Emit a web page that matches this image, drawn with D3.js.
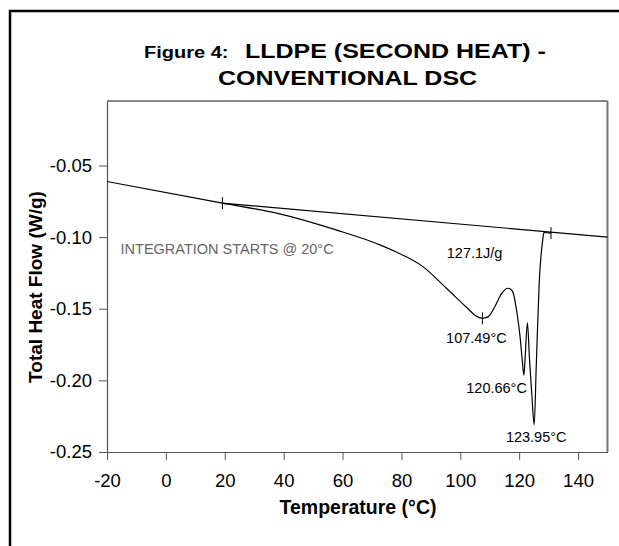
<!DOCTYPE html>
<html>
<head>
<meta charset="utf-8">
<script src="https://cdn.jsdelivr.net/npm/d3@7"></script>
<style>
  body { margin: 0; background: #fff; }
  svg { display: block; font-family: "Liberation Sans", Arial, sans-serif; }
  .tick text { font-size: 18.5px; fill: #000; }
  .tick line { stroke: #555; }
</style>
</head>
<body>
<div id="chart"></div>
<script>
// DSC trace (temperature in °C, heat flow in W/g)
var curveTemp = [-20, 19.2, 37.6, 57.8, 72.7, 77.9, 87.3, 95.3, 102.1, 105, 107.5, 109.5, 111.8, 114, 116.1, 117.2, 118.0, 119.1, 120.3, 121.0, 121.6, 122.0, 122.8, 123.5, 124.3, 125.1, 125.8, 126.8, 128.0, 128.4, 130.8];
var curveFlow = [-0.0612, -0.0763, -0.0833, -0.0950, -0.1054, -0.1101, -0.1206, -0.1357, -0.1490, -0.1545, -0.1567, -0.1555, -0.1483, -0.1395, -0.1357, -0.1365, -0.1392, -0.1509, -0.1695, -0.1850, -0.1964, -0.1850, -0.1598, -0.1850, -0.2100, -0.2309, -0.1900, -0.1322, -0.1019, -0.0968, -0.0972];

// integration baseline
var baseTemp = [19.2, 150];
var baseFlow = [-0.0763, -0.100];

// small cross marks on the trace
var markTemp = [19.2, 107.5, 130.8];
var markFlow = [-0.0763, -0.1567, -0.0972];

// peak labels
var peakLabels = ["107.49°C", "120.66°C", "123.95°C"];
var peakTemp = [107.5, 121.6, 125.1];
var peakFlow = [-0.1567, -0.1964, -0.2309];

var xTicks = [-20, 0, 20, 40, 60, 80, 100, 120, 140];
var yTicks = [-0.25, -0.20, -0.15, -0.10, -0.05];

var W = 619, H = 546;
var margin = {left: 107, top: 101, right: 607.5, bottom: 452};

var svg = d3.select("#chart").append("svg")
    .attr("width", W)
    .attr("height", H);

// outer frame (runs off the page right and bottom)
svg.append("rect")
    .attr("x", 10).attr("y", 11)
    .attr("width", 700).attr("height", 700)
    .style("fill", "none")
    .style("stroke", "#000")
    .style("stroke-width", 2.5);

// title (the original lettering is stretched sideways)
var title1 = svg.append("text")
    .attr("transform", "translate(144,58) scale(1.25,1)")
    .style("font-weight", "bold");
title1.append("tspan").attr("x", 0).style("font-size", "16px").text("Figure 4:");
title1.append("tspan").attr("x", 80.8).style("font-size", "20px").text("LLDPE (SECOND HEAT) -");
svg.append("text")
    .attr("transform", "translate(218,85) scale(1.25,1)")
    .style("font-weight", "bold")
    .style("font-size", "20px")
    .text("CONVENTIONAL DSC");

var x = d3.scaleLinear()
    .domain([-20, 150])
    .range([margin.left, margin.right]);
var y = d3.scaleLinear()
    .domain([-0.25, -0.005])
    .range([margin.bottom, margin.top]);

// plot frame
svg.append("line")
    .attr("x1", margin.left).attr("x2", margin.right)
    .attr("y1", margin.top).attr("y2", margin.top)
    .style("stroke", "#111").style("stroke-width", 1.2);
svg.append("line")
    .attr("x1", margin.right).attr("x2", margin.right)
    .attr("y1", margin.top).attr("y2", margin.bottom)
    .style("stroke", "#777").style("stroke-width", 2);

svg.append("g")
    .attr("class", "axis axis--x")
    .attr("transform", "translate(0," + margin.bottom + ")")
    .call(d3.axisBottom(x).tickValues(xTicks).tickSize(8).tickSizeOuter(0).tickPadding(14)
        .tickFormat(d3.format("d")));
svg.append("g")
    .attr("class", "axis axis--y")
    .attr("transform", "translate(" + margin.left + ",0)")
    .call(d3.axisLeft(y).tickValues(yTicks).tickSize(8).tickSizeOuter(0).tickPadding(7)
        .tickFormat(d3.format(".2f")));
svg.selectAll(".axis .domain").style("stroke", "#555").style("stroke-width", 1.2);
// d3 uses a unicode minus; the figure uses a hyphen
svg.selectAll(".axis .tick text").text(function() { return this.textContent.replace("\u2212", "-"); });

// axis titles
svg.append("text")
    .attr("x", 358).attr("y", 514)
    .attr("text-anchor", "middle")
    .style("font-weight", "bold")
    .style("font-size", "19.5px")
    .text("Temperature (°C)");
svg.append("text")
    .attr("transform", "translate(42,287) rotate(-90)")
    .attr("text-anchor", "middle")
    .style("font-weight", "bold")
    .style("font-size", "19px")
    .text("Total Heat Flow (W/g)");

// baseline
var line = d3.line()
    .x(function(d) { return x(d[0]); })
    .y(function(d) { return y(d[1]); });
svg.append("path")
    .datum(d3.zip(baseTemp, baseFlow))
    .attr("d", line)
    .style("fill", "none")
    .style("stroke", "#000")
    .style("stroke-width", 1.2);

// trace
svg.append("path")
    .datum(d3.zip(curveTemp, curveFlow))
    .attr("d", line.curve(d3.curveMonotoneX))
    .style("fill", "none")
    .style("stroke", "#000")
    .style("stroke-width", 1.2);

// marks
svg.selectAll(".mark")
    .data(d3.zip(markTemp, markFlow))
    .enter().append("line")
    .attr("class", "mark")
    .attr("x1", function(d) { return x(d[0]); })
    .attr("x2", function(d) { return x(d[0]); })
    .attr("y1", function(d) { return y(d[1]) - 6; })
    .attr("y2", function(d) { return y(d[1]) + 6; })
    .style("stroke", "#000");

// annotations
var peakDx = [-6, 3, 2];
var peakAnchor = ["middle", "end", "middle"];
svg.selectAll(".peak-label")
    .data(peakLabels)
    .enter().append("text")
    .attr("class", "peak-label")
    .attr("x", function(d, i) { return x(peakTemp[i]) + peakDx[i]; })
    .attr("y", function(d, i) { return y(peakFlow[i]) + (i == 0 ? 25 : 17.5); })
    .attr("text-anchor", function(d, i) { return peakAnchor[i]; })
    .style("font-size", "14.5px")
    .text(function(d) { return d; });

svg.append("text")
    .attr("x", x(95.4)).attr("y", y(-0.1148))
    .style("font-size", "14.5px")
    .text("127.1J/g");

svg.append("text")
    .attr("x", x(-15.4)).attr("y", y(-0.1118))
    .style("font-size", "14.5px")
    .style("fill", "#666")
    .text("INTEGRATION STARTS @ 20°C");
</script>
</body>
</html>
